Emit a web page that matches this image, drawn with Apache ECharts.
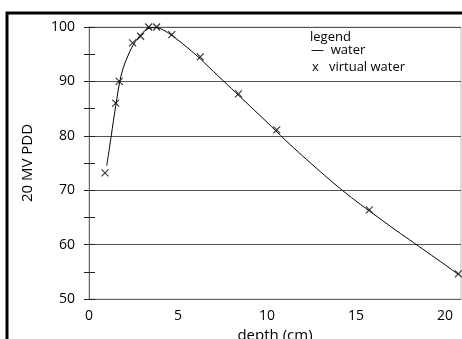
<!DOCTYPE html>
<html><head><meta charset="utf-8">
<script src="https://cdn.jsdelivr.net/npm/echarts@6/dist/echarts.min.js"></script>
<style>html,body{margin:0;padding:0;background:#fff;}#c{width:462px;height:339px;}</style>
</head><body><div id="c"></div>
<script>
// water (line) depth / PDD
const waterDepth = [1.0, 1.25, 1.5, 1.75, 2.0, 2.5, 3.0, 3.4, 3.8, 4.2, 4.6, 5, 6, 7, 8, 9, 10, 11, 12, 13, 14, 15, 16, 17, 18, 19, 20, 20.8];
const waterPdd   = [74.5, 80.0, 85.5, 90.3, 93.2, 96.8, 98.9, 99.8, 99.9, 99.4, 98.6, 97.6, 94.9, 91.8, 88.7, 85.6, 82.5, 79.3, 76.3, 73.4, 70.6, 68.0, 65.6, 63.2, 60.9, 58.6, 56.3, 54.4];
// virtual water (x markers)
const vwDepth = [0.9, 1.5, 1.7, 2.45, 2.9, 3.35, 3.8, 4.65, 6.25, 8.4, 10.55, 15.75, 20.75];
const vwPdd   = [73.2, 86.0, 90.0, 97.1, 98.3, 100.0, 100.0, 98.6, 94.5, 87.7, 81.1, 66.4, 54.6];
const xTicks = [0, 5, 10, 15, 20];
const yTicks = [50, 60, 70, 80, 90, 100];
const legendLines = ['legend', '—  water', 'x   virtual water'];

const font = '"Open Sans", "Noto Sans", sans-serif';
const chart = echarts.init(document.getElementById('c'), null, {renderer: 'canvas'});
chart.setOption({
  animation: false,
  backgroundColor: '#fff',
  grid: {left: 89, top: 27, right: 1, bottom: 40, containLabel: false, outerBoundsMode: 'none',
         show: true, borderColor: '#bbb', borderWidth: 1},
  xAxis: {
    type: 'value', min: 0, max: 20.9, interval: 5,
    name: 'depth (cm)', nameLocation: 'middle', nameGap: 28,
    nameTextStyle: {fontFamily: font, fontSize: 15, color: '#000'},
    axisLine: {show: true, lineStyle: {color: '#666', width: 1}},
    axisTick: {show: false},
    splitLine: {show: false},
    axisLabel: {fontFamily: font, fontSize: 14, color: '#000', margin: 10,
      formatter: v => xTicks.includes(v) ? String(v) : ''}
  },
  yAxis: [{
    type: 'value', min: 50, max: 100, interval: 10,
    name: '20 MV PDD', nameLocation: 'middle', nameGap: 54,
    nameTextStyle: {fontFamily: font, fontSize: 15, color: '#000'},
    axisLine: {show: true, lineStyle: {color: '#666', width: 1}},
    axisTick: {show: true, length: 5, lineStyle: {color: '#222'}},
    minorTick: {show: true, splitNumber: 2, length: 5, lineStyle: {color: '#222'}},
    splitLine: {show: true, lineStyle: {color: '#555', width: 1}},
    axisLabel: {fontFamily: font, fontSize: 14, color: '#000', margin: 14,
      formatter: v => yTicks.includes(v) ? String(v) : ''}
  }, {
    type: 'value', min: 50, max: 100, interval: 5, position: 'left',
    axisLine: {show: false},
    axisTick: {show: true, inside: true, length: 6, lineStyle: {color: '#222'}},
    axisLabel: {show: false},
    splitLine: {show: false}
  }],
  series: [{
    type: 'line', name: 'water',
    data: waterDepth.map((d, i) => [d, waterPdd[i]]),
    showSymbol: false, smooth: 0.3, clip: false,
    lineStyle: {color: '#000', width: 1}
  }, {
    type: 'scatter', name: 'virtual water', clip: false,
    data: vwDepth.map((d, i) => [d, vwPdd[i]]),
    symbol: 'path://M0,0L10,10M10,0L0,10', symbolSize: 7,
    itemStyle: {color: 'none', borderColor: '#000', borderWidth: 1.1}
  }],
  graphic: [
    {type: 'rect', shape: {x: 7, y: 13, width: 700, height: 600}, style: {fill: 'none', stroke: '#000', lineWidth: 3}, z: 100},
    {type: 'text', left: 310, top: 31, style: {text: legendLines[0], fontFamily: font, fontSize: 13, fill: '#000'}},
    {type: 'text', left: 311, top: 44, style: {text: legendLines[1], fontFamily: font, fontSize: 13, fill: '#000'}},
    {type: 'text', left: 312, top: 61, style: {text: legendLines[2], fontFamily: font, fontSize: 13, fill: '#000'}}
  ]
});
</script></body></html>
